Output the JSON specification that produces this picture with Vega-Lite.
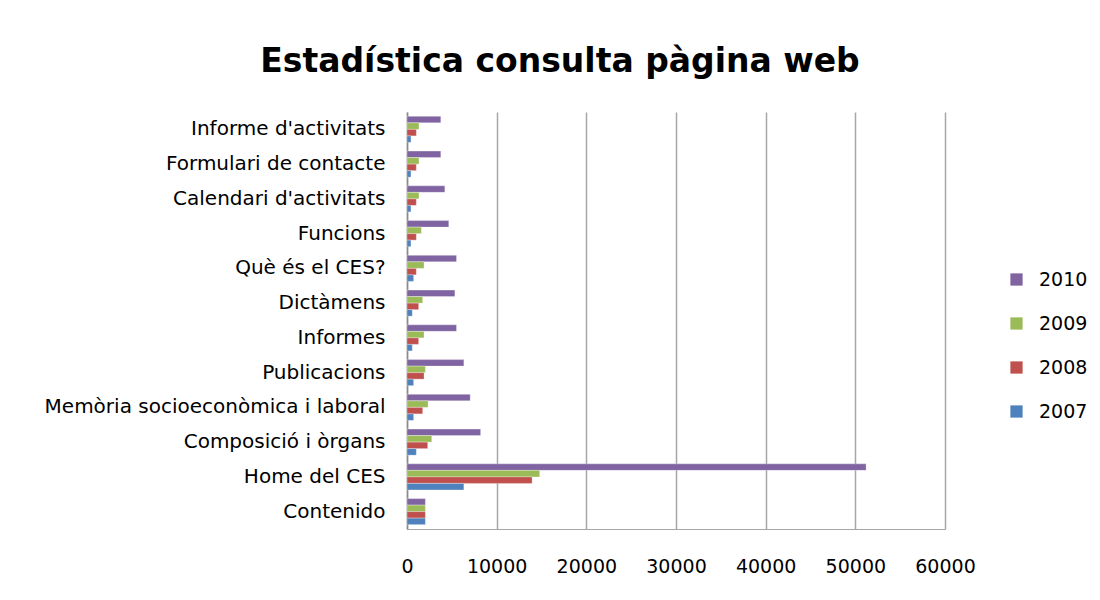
{
  "$schema": "https://vega.github.io/schema/vega-lite/v6.json",
  "autosize": {"type": "none"},
  "width": 538,
  "height": 417,
  "padding": {"left": 407, "top": 112, "right": 155, "bottom": 71},
  "background": "white",
  "title": {
    "text": "Estadística consulta pàgina web",
    "font": "DejaVu Sans",
    "fontSize": 33,
    "fontWeight": "bold",
    "color": "#000000",
    "anchor": "middle",
    "dx": -116,
    "offset": 33
  },
  "data": {
    "values": [
      {"page": "Informe d'activitats", "year": "2010", "visits": 3770},
      {"page": "Informe d'activitats", "year": "2009", "visits": 1340},
      {"page": "Informe d'activitats", "year": "2008", "visits": 1040},
      {"page": "Informe d'activitats", "year": "2007", "visits": 440},
      {"page": "Formulari de contacte", "year": "2010", "visits": 3770},
      {"page": "Formulari de contacte", "year": "2009", "visits": 1340},
      {"page": "Formulari de contacte", "year": "2008", "visits": 1040},
      {"page": "Formulari de contacte", "year": "2007", "visits": 440},
      {"page": "Calendari d'activitats", "year": "2010", "visits": 4220},
      {"page": "Calendari d'activitats", "year": "2009", "visits": 1340},
      {"page": "Calendari d'activitats", "year": "2008", "visits": 1040},
      {"page": "Calendari d'activitats", "year": "2007", "visits": 440},
      {"page": "Funcions", "year": "2010", "visits": 4660},
      {"page": "Funcions", "year": "2009", "visits": 1600},
      {"page": "Funcions", "year": "2008", "visits": 1040},
      {"page": "Funcions", "year": "2007", "visits": 440},
      {"page": "Què és el CES?", "year": "2010", "visits": 5520},
      {"page": "Què és el CES?", "year": "2009", "visits": 1900},
      {"page": "Què és el CES?", "year": "2008", "visits": 1040},
      {"page": "Què és el CES?", "year": "2007", "visits": 740},
      {"page": "Dictàmens", "year": "2010", "visits": 5340},
      {"page": "Dictàmens", "year": "2009", "visits": 1750},
      {"page": "Dictàmens", "year": "2008", "visits": 1300},
      {"page": "Dictàmens", "year": "2007", "visits": 590},
      {"page": "Informes", "year": "2010", "visits": 5520},
      {"page": "Informes", "year": "2009", "visits": 1900},
      {"page": "Informes", "year": "2008", "visits": 1300},
      {"page": "Informes", "year": "2007", "visits": 590},
      {"page": "Publicacions", "year": "2010", "visits": 6340},
      {"page": "Publicacions", "year": "2009", "visits": 2050},
      {"page": "Publicacions", "year": "2008", "visits": 1900},
      {"page": "Publicacions", "year": "2007", "visits": 740},
      {"page": "Memòria socioeconòmica i laboral", "year": "2010", "visits": 7050},
      {"page": "Memòria socioeconòmica i laboral", "year": "2009", "visits": 2350},
      {"page": "Memòria socioeconòmica i laboral", "year": "2008", "visits": 1750},
      {"page": "Memòria socioeconòmica i laboral", "year": "2007", "visits": 740},
      {"page": "Composició i òrgans", "year": "2010", "visits": 8210},
      {"page": "Composició i òrgans", "year": "2009", "visits": 2760},
      {"page": "Composició i òrgans", "year": "2008", "visits": 2310},
      {"page": "Composició i òrgans", "year": "2007", "visits": 1040},
      {"page": "Home del CES", "year": "2010", "visits": 51200},
      {"page": "Home del CES", "year": "2009", "visits": 14800},
      {"page": "Home del CES", "year": "2008", "visits": 13950},
      {"page": "Home del CES", "year": "2007", "visits": 6340},
      {"page": "Contenido", "year": "2010", "visits": 2050},
      {"page": "Contenido", "year": "2009", "visits": 2050},
      {"page": "Contenido", "year": "2008", "visits": 2050},
      {"page": "Contenido", "year": "2007", "visits": 2050}
    ]
  },
  "mark": {"type": "bar", "stroke": "white", "strokeWidth": 0.5, "strokeOpacity": 0.6},
  "encoding": {
    "y": {
      "field": "page",
      "type": "nominal",
      "sort": ["Informe d'activitats", "Formulari de contacte", "Calendari d'activitats", "Funcions", "Què és el CES?", "Dictàmens", "Informes", "Publicacions", "Memòria socioeconòmica i laboral", "Composició i òrgans", "Home del CES", "Contenido"],
      "scale": {"paddingInner": 0.25, "paddingOuter": 0.125},
      "axis": {
        "title": null,
        "labelFont": "DejaVu Sans",
        "labelFontSize": 20,
        "labelColor": "#000000",
        "labelPadding": 22,
        "labelLimit": 0,
        "labelOverlap": false,
        "ticks": false,
        "domainColor": "#8c8c8c",
        "domainWidth": 1.5
      }
    },
    "x": {
      "field": "visits",
      "type": "quantitative",
      "scale": {"domain": [0, 60000], "nice": false},
      "axis": {
        "title": null,
        "values": [0, 10000, 20000, 30000, 40000, 50000, 60000],
        "format": "d",
        "labelFont": "DejaVu Sans",
        "labelFontSize": 19,
        "labelColor": "#000000",
        "labelPadding": 28,
        "labelOverlap": false,
        "labelFlush": false,
        "ticks": false,
        "grid": true,
        "gridColor": "#a6a6a6",
        "gridWidth": 1.5,
        "domainColor": "#a6a6a6",
        "domainWidth": 1
      }
    },
    "yOffset": {
      "field": "year",
      "type": "nominal",
      "sort": ["2010", "2009", "2008", "2007"],
      "scale": {"paddingInner": 0, "paddingOuter": 0}
    },
    "color": {
      "field": "year",
      "type": "nominal",
      "sort": ["2010", "2009", "2008", "2007"],
      "scale": {
        "domain": ["2010", "2009", "2008", "2007"],
        "range": ["#8064a2", "#9bbb59", "#c0504d", "#4f81bd"]
      },
      "legend": {
        "title": null,
        "orient": "none",
        "legendX": 600,
        "legendY": 158,
        "symbolType": "square",
        "symbolSize": 150,
        "symbolStrokeWidth": 0,
        "labelFont": "DejaVu Sans",
        "labelFontSize": 19,
        "labelColor": "#000000",
        "labelOffset": 13,
        "rowPadding": 24
      }
    }
  },
  "config": {
    "view": {"stroke": null}
  }
}
